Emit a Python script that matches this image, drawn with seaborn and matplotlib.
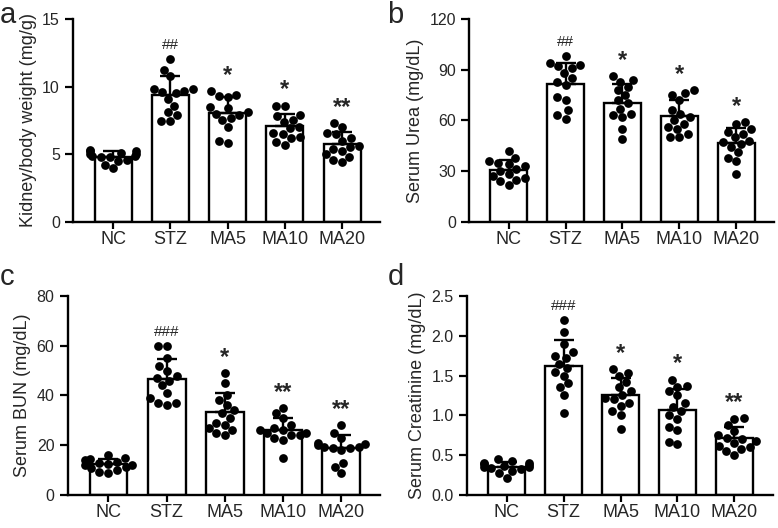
import matplotlib
matplotlib.use("Agg")
import matplotlib.pyplot as plt
import seaborn as sns
import pandas as pd
import numpy as np

groups = ["NC", "STZ", "MA5", "MA10", "MA20"]

# panel a - kidney/body weight (mg/g)
kidney = {
    "NC": [5.3, 5.2, 5.2, 5.1, 5.0, 5.0, 4.9, 4.9, 4.8, 4.8, 4.6, 4.5, 4.2, 3.95],
    "STZ": [12.05, 11.25, 10.8, 9.85, 9.8, 9.7, 9.6, 9.5, 9.1, 8.6, 8.1, 7.9, 7.45, 7.45],
    "MA5": [9.7, 9.4, 9.3, 9.2, 8.5, 8.4, 8.1, 8.0, 7.9, 7.7, 7.5, 7.0, 6.0, 5.8],
    "MA10": [8.6, 8.6, 7.9, 7.8, 7.5, 7.4, 7.0, 6.9, 6.6, 6.5, 6.3, 6.2, 5.9, 5.7],
    "MA20": [7.3, 7.0, 6.6, 6.5, 6.2, 6.0, 5.6, 5.5, 5.4, 5.2, 5.0, 4.8, 4.6, 4.4],
}
kidney_marks = ["", "##", "*", "*", "**"]

# panel b - serum urea (mg/dL)
urea = {
    "NC": [42, 38, 36, 35, 34, 33, 31, 30, 28, 27, 26, 25, 24, 22],
    "STZ": [98, 94, 93, 92, 91, 88, 85, 83, 81, 74, 72, 66, 63, 61],
    "MA5": [86, 84, 83, 80, 78, 75, 72, 70, 67, 64, 63, 62, 55, 49],
    "MA10": [78, 76, 75, 72, 66, 64, 62, 60, 58, 56, 55, 52, 50, 50],
    "MA20": [59, 58, 55, 53, 52, 50, 48, 47, 46, 44, 41, 38, 36, 28],
}
urea_marks = ["", "##", "*", "*", "*"]

# panel c - serum BUN (mg/dL)
bun = {
    "NC": [16, 15, 14.5, 14, 13.5, 13, 12.5, 12, 12, 11.5, 11, 10, 9.5, 9],
    "STZ": [60, 60, 55, 52, 50, 48, 47, 46, 44, 41, 39, 37, 37, 36],
    "MA5": [49, 45, 40, 38, 36, 34, 33, 31, 29, 28, 27, 26, 25, 24],
    "MA10": [35, 33, 31, 28, 27, 26, 26, 25, 25, 24, 24, 23, 22, 15],
    "MA20": [28, 25, 23, 21, 20.5, 20, 19.5, 19.5, 19, 19, 18, 13, 11.5, 9],
}
bun_marks = ["", "###", "*", "**", "**"]

# panel d - serum creatinine (mg/dL)
creat = {
    "NC": [0.45, 0.43, 0.41, 0.40, 0.39, 0.38, 0.37, 0.36, 0.35, 0.34, 0.33, 0.31, 0.28, 0.22],
    "STZ": [2.2, 2.05, 1.9, 1.8, 1.75, 1.72, 1.65, 1.6, 1.55, 1.5, 1.4, 1.35, 1.25, 1.03],
    "MA5": [1.58, 1.53, 1.5, 1.42, 1.35, 1.3, 1.25, 1.22, 1.2, 1.15, 1.12, 1.05, 1.0, 0.83],
    "MA10": [1.45, 1.37, 1.36, 1.3, 1.25, 1.15, 1.1, 1.05, 1.0, 0.95, 0.85, 0.82, 0.67, 0.64],
    "MA20": [0.97, 0.96, 0.88, 0.80, 0.75, 0.72, 0.70, 0.68, 0.65, 0.62, 0.60, 0.58, 0.55, 0.50],
}
creat_marks = ["", "###", "*", "*", "**"]

panels = [
    ("a", kidney, kidney_marks, "Kidney/body weight (mg/g)", (0, 15), 5, "{:.0f}"),
    ("b", urea, urea_marks, "Serum Urea (mg/dL)", (0, 120), 30, "{:.0f}"),
    ("c", bun, bun_marks, "Serum BUN (mg/dL)", (0, 80), 20, "{:.0f}"),
    ("d", creat, creat_marks, "Serum Creatinine (mg/dL)", (0, 2.5), 0.5, "{:.1f}"),
]

# axes rectangles in figure fractions (left, bottom, width, height)
rects = [
    (0.094, 0.580, 0.395, 0.384),
    (0.603, 0.580, 0.392, 0.384),
    (0.087, 0.062, 0.402, 0.378),
    (0.600, 0.062, 0.393, 0.378),
]
# panel letter baselines
letter_pos = [(0.0, 0.957), (0.498, 0.957), (0.0, 0.461), (0.498, 0.461)]

sns.set_theme(style="ticks")
plt.rcParams["font.family"] = ["Liberation Sans", "DejaVu Sans"]

fig = plt.figure(figsize=(7.78, 5.28), dpi=100)

for (letter, data, marks, ylabel, ylim, step, fmt), rect, lp in zip(panels, rects, letter_pos):
    ax = fig.add_axes(rect)
    df = pd.DataFrame([(g, v) for g in groups for v in data[g]], columns=["group", "value"])
    stats = df.groupby("group", sort=False)["value"].agg(["mean", "std"]).reindex(groups)

    sns.barplot(data=df, x="group", y="value", order=groups, errorbar=None,
                color="white", edgecolor="black", linewidth=1.7, width=0.65, ax=ax)
    sns.swarmplot(data=df, x="group", y="value", order=groups, color="black",
                  size=6.3, ax=ax, zorder=3)
    ax.errorbar(np.arange(len(groups)), stats["mean"],
                yerr=[np.zeros(len(groups)), stats["std"]],
                fmt="none", ecolor="black", elinewidth=1.7, capsize=7, capthick=1.7, zorder=4)

    span = ylim[1] - ylim[0]
    for i, g in enumerate(groups):
        if marks[i]:
            top = max(max(data[g]), stats.loc[g, "mean"] + stats.loc[g, "std"])
            is_hash = marks[i].startswith("#")
            ax.text(i, top + span * (0.035 if is_hash else 0.02), marks[i],
                    ha="center", va="bottom",
                    fontsize=11 if is_hash else 17,
                    fontweight="normal" if is_hash else "bold")

    ax.set_xlim(-0.7, 4.67)
    ax.set_ylim(*ylim)
    ticks = np.arange(ylim[0], ylim[1] + step / 2, step)
    ax.set_yticks(ticks)
    ax.set_yticklabels([fmt.format(t) for t in ticks])
    ax.set_xlabel("")
    ax.set_ylabel(ylabel, fontsize=13)
    ax.tick_params(axis="x", labelsize=13, width=1.6, length=5, pad=1.5, color="black")
    ax.tick_params(axis="y", labelsize=11.5, width=1.6, length=6, color="black")
    for s in ["left", "bottom"]:
        ax.spines[s].set_linewidth(1.7)
        ax.spines[s].set_color("black")
    sns.despine(ax=ax)
    fig.text(lp[0], lp[1], letter, fontsize=21, ha="left", va="baseline")

plt.savefig("out.png", dpi=100)
